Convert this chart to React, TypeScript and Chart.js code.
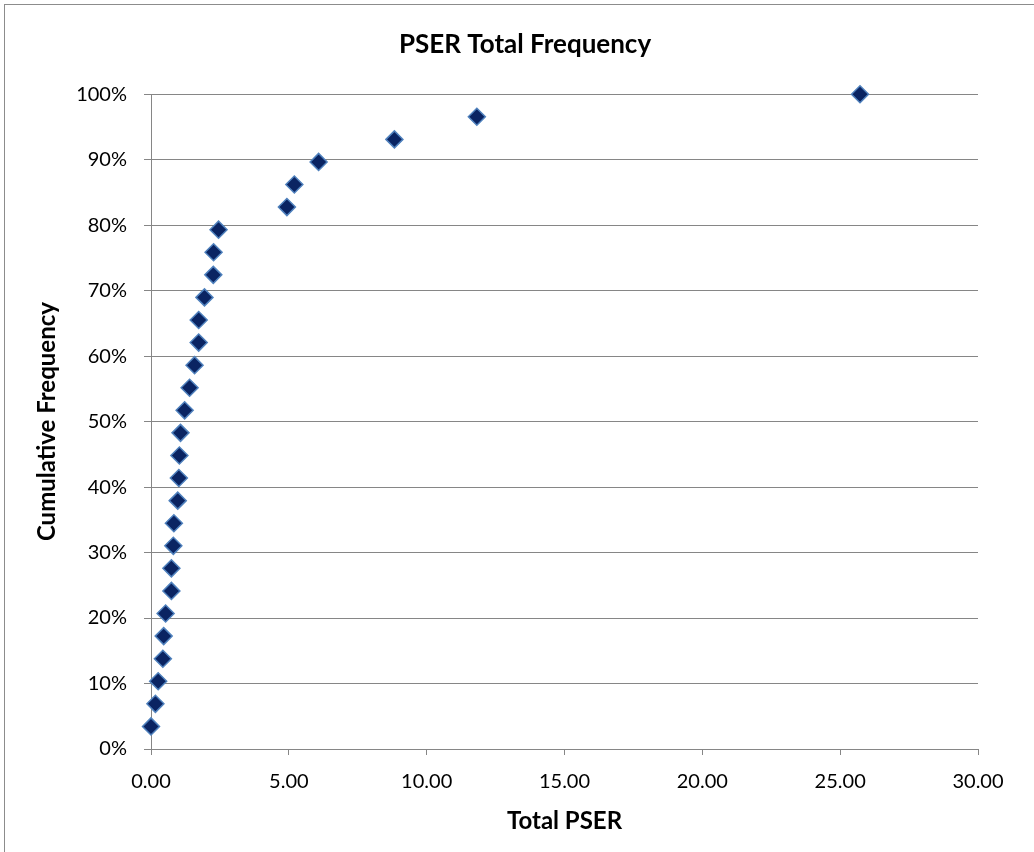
import React, { useEffect, useRef } from "react";
import { Chart, registerables } from "chart.js";

Chart.register(...registerables);

const totalPser: number[] = [
  0.0, 0.16, 0.26, 0.43, 0.46, 0.53, 0.74, 0.74, 0.81, 0.83, 0.97, 1.01, 1.03, 1.07, 1.22,
  1.4, 1.58, 1.73, 1.73, 1.94, 2.26, 2.27, 2.45, 4.93, 5.2, 6.08, 8.83, 11.82, 25.72,
];
const cumulativeFrequency: number[] = [
  3.45, 6.9, 10.34, 13.79, 17.24, 20.69, 24.14, 27.59, 31.03, 34.48, 37.93, 41.38, 44.83,
  48.28, 51.72, 55.17, 58.62, 62.07, 65.52, 68.97, 72.41, 75.86, 79.31, 82.76, 86.21, 89.66,
  93.1, 96.55, 100,
];
const titleText = "PSER Total Frequency";
const xTitle = "Total PSER";
const yTitle = "Cumulative Frequency";

const W = 1034;
const H = 852;
const FONT = "Lato, 'Open Sans', sans-serif";
const GRID = "#868686";

export default function App() {
  const ref = useRef<HTMLCanvasElement | null>(null);
  useEffect(() => {
    if (!ref.current) return;
    const points = totalPser.map((x, i) => ({ x, y: cumulativeFrequency[i] }));
    const chart = new Chart(ref.current, {
      type: "scatter",
      data: {
        datasets: [
          {
            data: points,
            pointStyle: "rectRot",
            pointRadius: 8.5,
            pointHoverRadius: 8.5,
            backgroundColor: "#0a2462",
            borderColor: "#4f81bd",
            borderWidth: 1.5,
            clip: false as any,
          },
        ],
      },
      options: {
        responsive: false,
        animation: false,
        devicePixelRatio: 1,
        layout: { padding: { left: 16, right: 0, top: 0, bottom: 0 } },
        plugins: {
          legend: { display: false },
          tooltip: { enabled: false },
          title: {
            display: true,
            text: titleText,
            color: "#000",
            font: { family: FONT, size: 26, weight: "bold", lineHeight: 1.2 },
            padding: { top: 29, bottom: 34 },
          },
        },
        scales: {
          x: {
            type: "linear",
            min: 0,
            max: 30,
            ticks: {
              stepSize: 5,
              color: "#000",
              font: { family: FONT, size: 20 },
              padding: 15,
              maxRotation: 0,
              callback: (v: any) => Number(v).toFixed(2),
            },
            grid: {
              drawOnChartArea: false,
              drawTicks: true,
              tickLength: 6,
              color: GRID,
              lineWidth: 1,
            },
            border: { display: true, color: GRID, width: 1 },
            title: {
              display: true,
              text: xTitle,
              color: "#000",
              font: { family: FONT, size: 24, weight: "bold", lineHeight: 1.2 },
              padding: { top: 0, bottom: 16 },
            },
            afterFit: (scale: any) => {
              scale.height = H - 749;
            },
          },
          y: {
            type: "linear",
            min: 0,
            max: 100,
            ticks: {
              stepSize: 10,
              color: "#000",
              font: { family: FONT, size: 20 },
              padding: 17,
              callback: (v: any) => `${v}%`,
            },
            grid: {
              drawOnChartArea: true,
              drawTicks: true,
              tickLength: 7,
              color: GRID,
              lineWidth: 1,
            },
            border: { display: true, color: GRID, width: 1 },
            title: {
              display: true,
              text: yTitle,
              color: "#000",
              font: { family: FONT, size: 24, weight: "bold", lineHeight: 1.2 },
              padding: { top: 17, bottom: 0 },
            },
            afterFit: (scale: any) => {
              scale.width = 151 - 16;
            },
          },
          yRightSpace: {
            type: "linear",
            position: "right",
            display: true,
            grid: { display: false, drawTicks: false },
            ticks: { display: false },
            border: { display: false },
            afterFit: (scale: any) => {
              scale.width = W - 978;
            },
          },
        },
      },
    });
    return () => chart.destroy();
  }, []);

  return (
    <div
      style={{
        position: "fixed",
        left: 0,
        top: 0,
        width: W,
        height: H,
        overflow: "hidden",
        background: "#fff",
      }}
    >
      <div
        style={{
          position: "absolute",
          left: 4,
          top: 4,
          width: W + 40,
          height: H + 40,
          border: "1px solid #8c8c8c",
          boxSizing: "border-box",
        }}
      />
      <canvas
        ref={ref}
        width={W}
        height={H}
        style={{ position: "absolute", left: 0, top: 0, width: W, height: H }}
      />
    </div>
  );
}
